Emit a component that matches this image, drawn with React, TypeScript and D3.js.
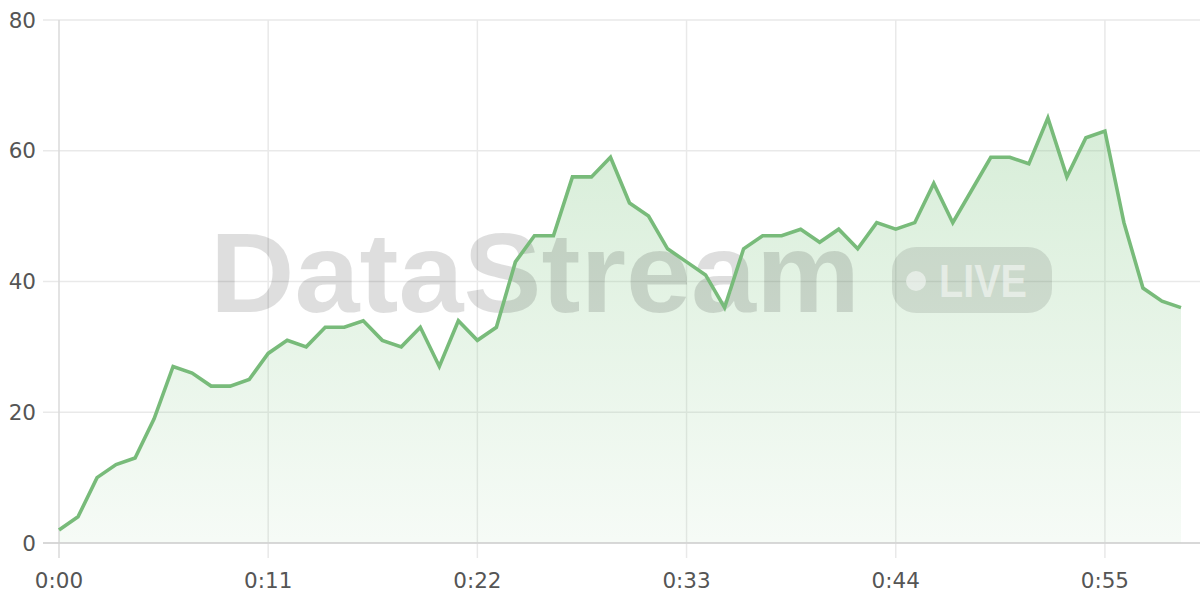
import React from "react";
import * as d3 from "d3";

const seconds: number[] = Array.from({ length: 60 }, (_, i) => i);
const values: number[] = [
  2, 4, 10, 12, 13, 19, 27, 26, 24, 24,
  25, 29, 31, 30, 33, 33, 34, 31, 30, 33,
  27, 34, 31, 33, 43, 47, 47, 56, 56, 59,
  52, 50, 45, 43, 41, 36, 45, 47, 47, 48,
  46, 48, 45, 49, 48, 49, 55, 49, 54, 59,
  59, 58, 65, 56, 62, 63, 49, 39, 37, 36,
];
const xTicks: number[] = [0, 11, 22, 33, 44, 55];
const yTicks: number[] = [0, 20, 40, 60, 80];

const W = 1200;
const H = 600;
const left = 59;
const right = 1200;
const top = 20;
const bottom = 543;

const fmt = (s: number) => `${Math.floor(s / 60)}:${String(s % 60).padStart(2, "0")}`;

export default function App() {
  const x = d3.scaleLinear().domain([0, 60]).range([left, right]);
  const y = d3.scaleLinear().domain([0, 80]).range([bottom, top]);
  const data = seconds.map((s, i) => ({ s, v: values[i] }));
  const line = d3
    .line<{ s: number; v: number }>()
    .x((d) => x(d.s))
    .y((d) => y(d.v));
  const area = d3
    .area<{ s: number; v: number }>()
    .x((d) => x(d.s))
    .y0(y(0))
    .y1((d) => y(d.v));
  const font = "'Liberation Sans', Arial, sans-serif";
  const labelFont = "'DejaVu Sans', sans-serif";
  return (
    <svg
      width={W}
      height={H}
      style={{ position: "absolute", left: 0, top: 0, background: "#fff" }}
    >
      <defs>
        <linearGradient id="fillGrad" gradientUnits="userSpaceOnUse" x1="0" x2="0" y1={y(65)} y2={y(0)}>
          <stop offset="0" stopColor="#81c784" stopOpacity={0.32} />
          <stop offset="1" stopColor="#81c784" stopOpacity={0.07} />
        </linearGradient>
      </defs>
      {yTicks.map((t) => (
        <line key={"h" + t} x1={43} x2={W} y1={y(t)} y2={y(t)} stroke="#e9e9e9" strokeWidth={1.5} />
      ))}
      {xTicks.map((t) => (
        <line key={"v" + t} x1={x(t)} x2={x(t)} y1={top} y2={558} stroke={t === 0 ? "#dadada" : "#e9e9e9"} strokeWidth={1.5} />
      ))}
      <path d={area(data) || ""} fill="url(#fillGrad)" />
      <line x1={43} x2={W} y1={y(0)} y2={y(0)} stroke="#d0d0d0" strokeWidth={1.5} />
      <g>
        <text
          x={210}
          y={312}
          fontFamily={font}
          fontWeight={700}
          fontSize={113}
          fill="#000"
          fillOpacity={0.13}
          textLength={650}
          lengthAdjust="spacingAndGlyphs"
        >
          DataStream
        </text>
        <rect x={892} y={247} width={160} height={66} rx={24} fill="#000" fillOpacity={0.1} />
        <circle cx={916} cy={281} r={10} fill="#fff" fillOpacity={0.5} />
        <text
          x={939}
          y={297}
          fontFamily={font}
          fontWeight={700}
          fontSize={46}
          fill="#fff"
          fillOpacity={0.5}
          textLength={88}
          lengthAdjust="spacingAndGlyphs"
        >
          LIVE
        </text>
      </g>
      <path d={line(data) || ""} fill="none" stroke="#78bb7a" strokeWidth={3.6} />
      {yTicks.map((t) => (
        <text key={"yl" + t} x={36} y={y(t)} dy="0.36em" textAnchor="end" fontFamily={labelFont} fontSize={21.5} fill="#555">
          {t}
        </text>
      ))}
      {xTicks.map((t) => (
        <text key={"xl" + t} x={x(t)} y={580} dy="0.36em" textAnchor="middle" fontFamily={labelFont} fontSize={21.5} fill="#555">
          {fmt(t)}
        </text>
      ))}
    </svg>
  );
}
